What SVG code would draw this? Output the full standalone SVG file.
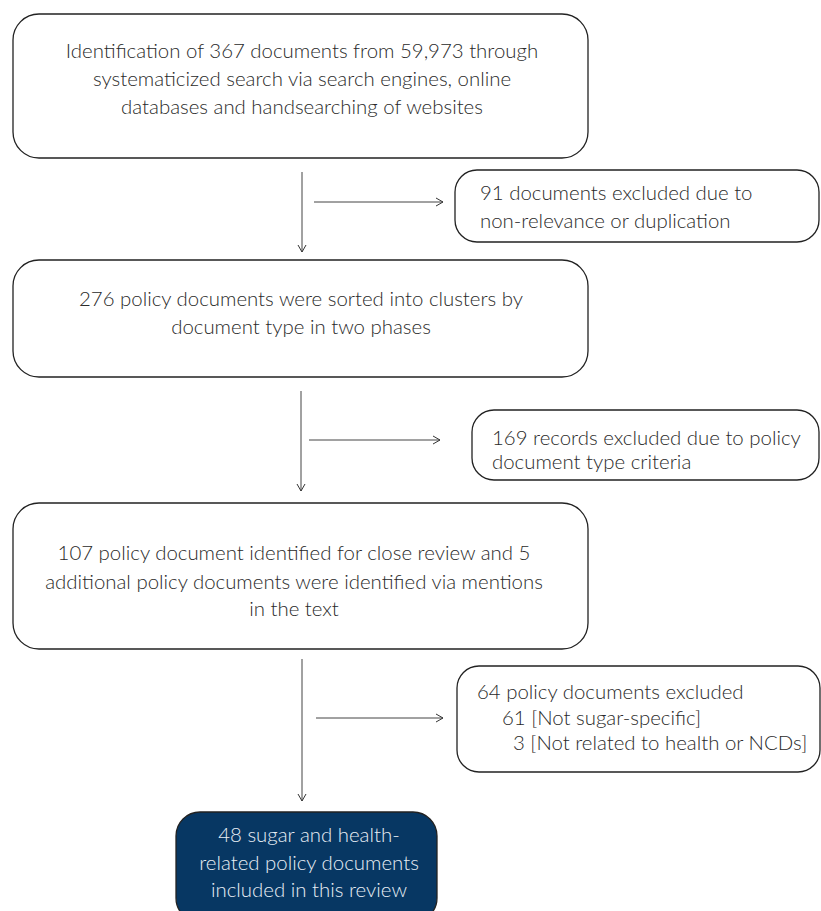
<svg xmlns="http://www.w3.org/2000/svg" width="821" height="911" viewBox="0 0 821 911">
<defs>
<marker id="ah" markerWidth="12" markerHeight="12" refX="10" refY="6" orient="auto" markerUnits="userSpaceOnUse">
<path d="M3,2 L10,6 L3,10" fill="none" stroke="#333" stroke-width="1"/>
</marker>
<style>
.box{fill:#fff;stroke:#222;stroke-width:1.3}
.fin{fill:#073763;stroke:#222;stroke-width:1.3}
.t{font-family:"Lato","Open Sans","Liberation Sans",sans-serif;font-size:20.4px;font-weight:300;fill:#2a2a2a}
.c{text-anchor:middle}
.w{fill:#e8eef5}
.ln{stroke:#444;stroke-width:1;fill:none}
</style>
</defs>
<rect width="821" height="911" fill="#fff"/>
<g id="connectors">
<line class="ln" x1="302" y1="172" x2="302" y2="252" marker-end="url(#ah)"/>
<line class="ln" x1="314" y1="202" x2="443" y2="202" marker-end="url(#ah)"/>
<line class="ln" x1="301" y1="391" x2="301" y2="491" marker-end="url(#ah)"/>
<line class="ln" x1="309" y1="440" x2="440" y2="440" marker-end="url(#ah)"/>
<line class="ln" x1="302" y1="659" x2="302" y2="801" marker-end="url(#ah)"/>
<line class="ln" x1="316" y1="718" x2="443" y2="718" marker-end="url(#ah)"/>
</g>
<g id="n1">
<rect class="box" x="13" y="14" width="575" height="144" rx="26"/>
<text class="t c" x="302" y="58">Identification of 367 documents from 59,973 through</text>
<text class="t c" x="302" y="86">systematicized search via search engines, online</text>
<text class="t c" x="302" y="114">databases and handsearching of websites</text>
</g>
<g id="x1">
<rect class="box" x="455" y="170" width="364" height="72" rx="22"/>
<text class="t" x="480" y="200">91 documents excluded due to</text>
<text class="t" x="480" y="228">non-relevance or duplication</text>
</g>
<g id="n2">
<rect class="box" x="13" y="260" width="575" height="117" rx="26"/>
<text class="t c" x="301" y="306">276 policy documents were sorted into clusters by</text>
<text class="t c" x="301" y="334">document type in two phases</text>
</g>
<g id="x2">
<rect class="box" x="472" y="410" width="347" height="70" rx="22"/>
<text class="t" x="492" y="445">169 records excluded due to policy</text>
<text class="t" x="492" y="469">document type criteria</text>
</g>
<g id="n3">
<rect class="box" x="13" y="503" width="575" height="146" rx="26"/>
<text class="t c" x="294" y="560">107 policy document identified for close review and 5</text>
<text class="t c" x="294" y="589">additional policy documents were identified via mentions</text>
<text class="t c" x="294" y="616">in the text</text>
</g>
<g id="x3">
<rect class="box" x="457" y="666" width="363" height="106" rx="22"/>
<text class="t" x="477" y="699">64 policy documents excluded</text>
<text class="t" x="502" y="725">61 [Not sugar-specific]</text>
<text class="t" x="513" y="750">3 [Not related to health or NCDs]</text>
</g>
<g id="n4">
<rect class="fin" x="176" y="812" width="261" height="110" rx="24"/>
<text class="t c w" x="309" y="842">48 sugar and health-</text>
<text class="t c w" x="309" y="870">related policy documents</text>
<text class="t c w" x="309" y="897">included in this review</text>
</g>
</svg>
